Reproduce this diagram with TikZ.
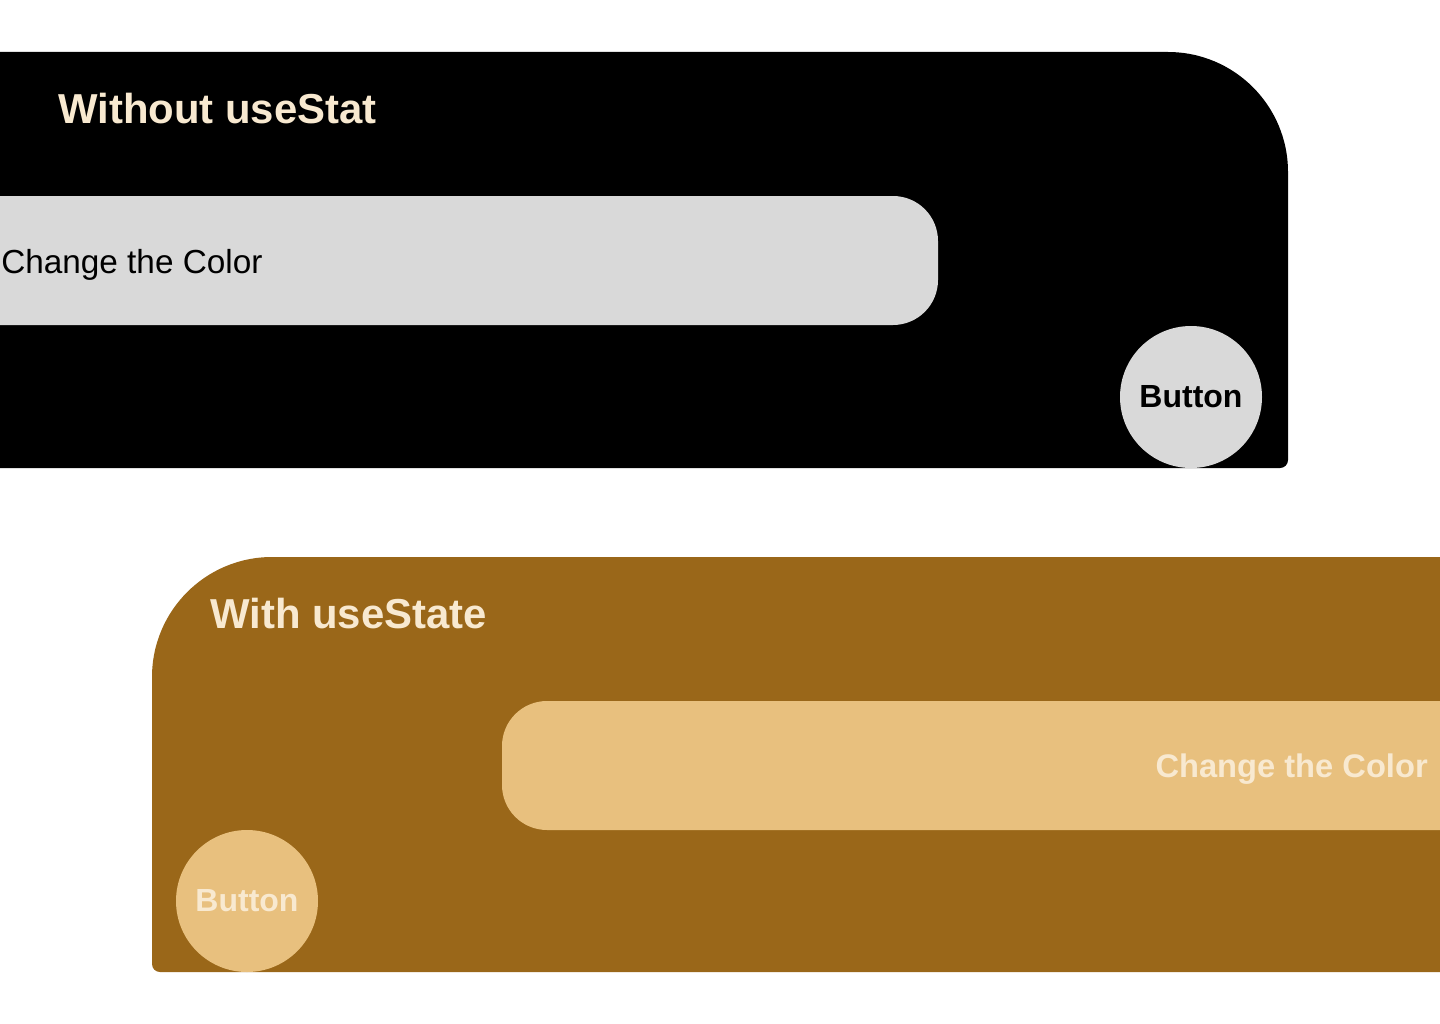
\documentclass[tikz,border=0pt]{standalone}
\usepackage{fontspec}
\setmainfont{Liberation Sans}
\definecolor{cream}{HTML}{F8E9D0}
\definecolor{brownp}{HTML}{9A6719}
\definecolor{tanb}{HTML}{E8C07E}
\definecolor{greyb}{HTML}{D9D9D9}
\begin{document}
\begin{tikzpicture}[x=0.75pt, y=-0.75pt, ttl/.style={anchor=base west, inner sep=0pt, text=cream, font=\fontsize{31.4}{36}\selectfont\bfseries}, btn/.style={circle, minimum size=106.5pt, inner sep=0pt, font=\fontsize{24}{28}\selectfont\bfseries}]

\clip (0,0) rectangle (1440,1024);
\fill[white] (0,0) rectangle (1440,1024);

\fill[black] (-20,52) -- (1168,52) arc[start angle=-90, end angle=0, radius=120] -- (1288,460) arc[start angle=0, end angle=90, radius=8] -- (-20,468) -- cycle;
\fill[greyb] (-20,196) -- (893,196) arc[start angle=-90, end angle=0, radius=45] -- (938,280) arc[start angle=0, end angle=90, radius=45] -- (-20,325) -- cycle;

\fill[brownp] (1460,557) -- (272,557) arc[start angle=-90, end angle=-180, radius=120] -- (152,964) arc[start angle=180, end angle=90, radius=8] -- (1460,972) -- cycle;
\fill[tanb] (1460,701) -- (547,701) arc[start angle=-90, end angle=-180, radius=45] -- (502,785) arc[start angle=180, end angle=90, radius=45] -- (1460,830) -- cycle;

\node[ttl] (title1) at (58,123) {Without useStat};
\node[anchor=base west, inner sep=0pt, font=\fontsize{25}{30}\selectfont] (bar1) at (1,273) {Change the Color};
\node[btn, fill=greyb, text=black] (btn1) at (1191,397) {Button};

\node[ttl] (title2) at (210,628) {With useState};
\node[anchor=base east, inner sep=0pt, text=cream, font=\fontsize{24.5}{29}\selectfont\bfseries] (bar2) at (1428,777) {Change the Color};
\node[btn, fill=tanb, text=cream] (btn2) at (247,901) {Button};

\end{tikzpicture}
\end{document}
